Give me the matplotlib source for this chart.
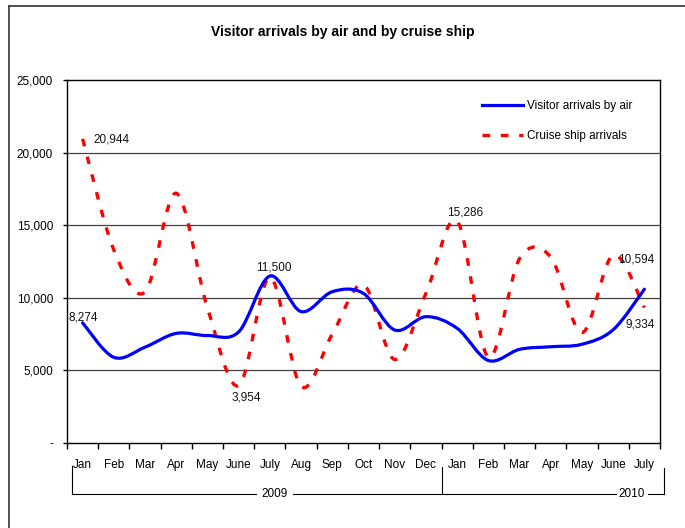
import numpy as np
import matplotlib.pyplot as plt
from matplotlib.path import Path
from matplotlib.patches import PathPatch
from matplotlib.lines import Line2D
import matplotlib.transforms as mtransforms

plt.rcParams['font.family'] = ['Liberation Sans Narrow', 'Liberation Sans', 'DejaVu Sans']

# Data
months = ["Jan", "Feb", "Mar", "Apr", "May", "June", "July", "Aug", "Sep", "Oct",
          "Nov", "Dec", "Jan", "Feb", "Mar", "Apr", "May", "June", "July"]
years = ["2009", "2010"]
air = [8274, 5900, 6600, 7550, 7400, 7650, 11500, 9050, 10420, 10300,
       7780, 8700, 7900, 5680, 6450, 6630, 6800, 7800, 10594]
cruise = [20944, 13300, 10400, 17200, 9300, 3954, 11400, 3900, 7500, 10900,
          5750, 10300, 15286, 5900, 12700, 12800, 7600, 12950, 9334]
ytick_vals = [0, 5000, 10000, 15000, 20000, 25000]
ytick_labels = ["-", "5,000", "10,000", "15,000", "20,000", "25,000"]

# (series, index, label text, x offset px, y offset px)
point_labels = [
    (cruise, 0, "20,944", 29, -1),
    (air, 0, "8,274", 1, 5),
    (cruise, 5, "3,954", 8, -12),
    (air, 6, "11,500", 4, 9),
    (cruise, 12, "15,286", 8, 9),
    (air, 18, "10,594", -8, 30),
    (cruise, 18, "9,334", -4, -17),
]


def smooth_path(values):
    # Excel-style smoothed line: Catmull-Rom segments as cubic Bezier curves
    pts = np.column_stack([np.arange(len(values)), values]).astype(float)
    verts = [pts[0]]
    codes = [Path.MOVETO]
    n = len(pts)
    for i in range(n - 1):
        p0 = pts[max(i - 1, 0)]
        p1 = pts[i]
        p2 = pts[i + 1]
        p3 = pts[min(i + 2, n - 1)]
        c1 = p1 + (p2 - p0) / 6.0
        c2 = p2 - (p3 - p1) / 6.0
        verts += [c1, c2, p2]
        codes += [Path.CURVE4] * 3
    return Path(verts, codes)


fig = plt.figure(figsize=(6.85, 5.28), dpi=100)
ax = fig.add_axes([67 / 685, 85 / 528, 593 / 685, 363 / 528])

ax.set_xlim(-0.5, len(months) - 0.5)
ax.set_ylim(0, 25000)

for v in ytick_vals[1:-1]:
    ax.axhline(v, color="#404040", lw=0.9, zorder=1)

air_style = dict(color="#0000FF", lw=2.3)
cruise_style = dict(color="#FF0000", lw=2.4, linestyle=(0, (2.3, 3.2)))

ax.add_patch(PathPatch(smooth_path(cruise), fill=False, zorder=3,
                       capstyle="butt", **cruise_style))
ax.add_patch(PathPatch(smooth_path(air), fill=False, zorder=4,
                       capstyle="round", **air_style))

for series, i, txt, dx, dy in point_labels:
    ax.annotate(txt, (i, series[i]), xytext=(dx, dy), textcoords="offset pixels",
                ha="center", va="center", fontsize=8.5, color="#111111", zorder=5)

# axes styling
for s in ax.spines.values():
    s.set_color("black")
    s.set_linewidth(1.0)
ax.set_yticks(ytick_vals)
ax.set_yticklabels(ytick_labels, fontsize=8.5)
ax.tick_params(axis="y", length=3, width=1, pad=7)

ax.set_xticks(np.arange(-0.5, len(months)), [""] * (len(months) + 1))
ax.set_xticks(np.arange(len(months)), months, minor=True, fontsize=8.5)
ax.tick_params(axis="x", which="major", length=4, width=1, direction="out")
ax.tick_params(axis="x", which="minor", length=0, pad=11.5)

# year row below month labels
trans = mtransforms.blended_transform_factory(ax.transData, ax.transAxes)
yb = -0.141
seg_kw = dict(color="black", lw=0.8, transform=trans, clip_on=False)
ax.plot([-0.35, -0.35], [-0.063, yb], **seg_kw)
ax.plot([11.5, 11.5], [-0.065, yb], **seg_kw)
ax.plot([18.62, 18.62], [-0.069, yb], **seg_kw)
ax.plot([-0.35, 5.55], [yb, yb], **seg_kw)
ax.plot([6.75, 11.5], [yb, yb], **seg_kw)
ax.plot([11.5, 17.1], [yb, yb], **seg_kw)
ax.plot([18.12, 18.62], [yb, yb], **seg_kw)
ax.text(6.15, yb, years[0], transform=trans, ha="center", va="center", fontsize=8.5)
ax.text(17.6, yb, years[1], transform=trans, ha="center", va="center", fontsize=8.5)

handles = [Line2D([], [], **air_style),
           Line2D([], [], dash_capstyle="butt", **cruise_style)]
ax.legend(handles, ["Visitor arrivals by air", "Cruise ship arrivals"],
          loc="upper left", bbox_to_anchor=(0.70, 0.945), frameon=False,
          fontsize=8.5, handlelength=3.5, handletextpad=0.3, labelspacing=1.55,
          borderpad=0, borderaxespad=0)

fig.text(0.5, 1 - 32 / 528, "Visitor arrivals by air and by cruise ship",
         ha="center", va="center", fontsize=10, fontweight="bold")

# outer chart frame (left and top edges)
fig.add_artist(Line2D([8.5 / 685, 8.5 / 685], [0, 1 - 6 / 528], color="#333333", lw=1.2))
fig.add_artist(Line2D([8.5 / 685, 1], [1 - 6 / 528, 1 - 6 / 528], color="#333333", lw=1.2))

fig.savefig("out.png", dpi=100)
